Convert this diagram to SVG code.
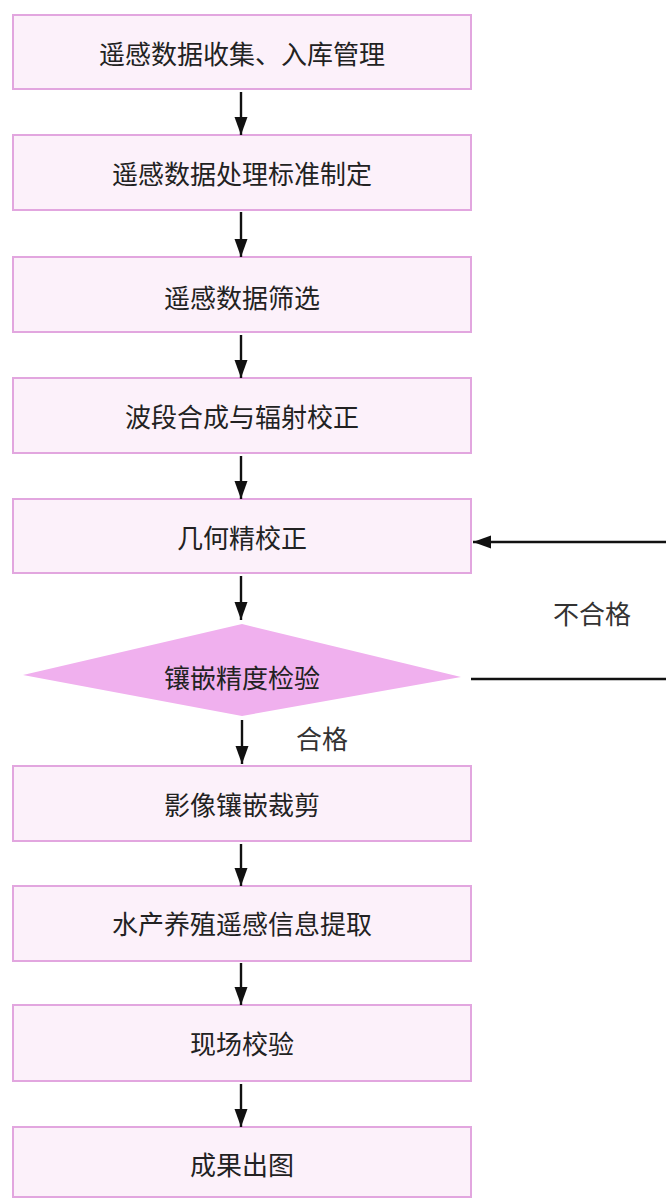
<svg xmlns="http://www.w3.org/2000/svg" width="666" height="1199" viewBox="0 0 666 1199">
<style>
.box{fill:#fcf1fa;stroke:#e2a6df;stroke-width:2}
.dia{fill:#f0b0ee;stroke:none}
.t{font-family:"Noto Sans CJK SC","Noto Sans",sans-serif;font-size:26px;fill:#222;text-anchor:middle;dominant-baseline:central}
.lbl{font-family:"Noto Sans CJK SC","Noto Sans",sans-serif;font-size:26px;fill:#333;text-anchor:middle;dominant-baseline:central}
.c{stroke:#111;stroke-width:2.4;fill:none}
</style>
<defs>
<marker id="ah" markerUnits="userSpaceOnUse" markerWidth="18" markerHeight="14" refX="18" refY="7" viewBox="0 0 18 14" orient="auto">
<path d="M0,0.5 L18,7 L0,13.5 Z" fill="#111"/>
</marker>
</defs>
<rect width="666" height="1199" fill="#fff"/>
<g id="n1"><rect class="box" x="13" y="15" width="458" height="74"/><text class="t" x="242" y="52">遥感数据收集、入库管理</text></g>
<g id="n2"><rect class="box" x="13" y="135" width="458" height="75"/><text class="t" x="242" y="172">遥感数据处理标准制定</text></g>
<g id="n3"><rect class="box" x="13" y="257" width="458" height="75"/><text class="t" x="242" y="296">遥感数据筛选</text></g>
<g id="n4"><rect class="box" x="13" y="378" width="458" height="75"/><text class="t" x="242" y="415">波段合成与辐射校正</text></g>
<g id="n5"><rect class="box" x="13" y="499" width="458" height="74"/><text class="t" x="242" y="536">几何精校正</text></g>
<g id="n6"><polygon class="dia" points="242,624 461,677 242,716 23,675"/><text class="t" x="242" y="676" fill="#1a1a1a">镶嵌精度检验</text></g>
<g id="n7"><rect class="box" x="13" y="766" width="458" height="75"/><text class="t" x="242" y="803">影像镶嵌裁剪</text></g>
<g id="n8"><rect class="box" x="13" y="886" width="458" height="75"/><text class="t" x="242" y="922">水产养殖遥感信息提取</text></g>
<g id="n9"><rect class="box" x="13" y="1005" width="458" height="76"/><text class="t" x="242" y="1042">现场校验</text></g>
<g id="n10"><rect class="box" x="13" y="1127" width="458" height="70"/><text class="t" x="242" y="1163">成果出图</text></g>
<g id="connectors">
<line class="c" x1="241" y1="92" x2="241" y2="135" marker-end="url(#ah)"/>
<line class="c" x1="241" y1="212" x2="241" y2="257" marker-end="url(#ah)"/>
<line class="c" x1="241" y1="335" x2="241" y2="378" marker-end="url(#ah)"/>
<line class="c" x1="241" y1="456" x2="241" y2="499" marker-end="url(#ah)"/>
<line class="c" x1="241" y1="576" x2="241" y2="620" marker-end="url(#ah)"/>
<line class="c" x1="242" y1="720" x2="242" y2="764" marker-end="url(#ah)"/>
<line class="c" x1="241" y1="844" x2="241" y2="886" marker-end="url(#ah)"/>
<line class="c" x1="241" y1="963" x2="241" y2="1005" marker-end="url(#ah)"/>
<line class="c" x1="241" y1="1084" x2="241" y2="1127" marker-end="url(#ah)"/>
<line class="c" x1="471" y1="679" x2="666" y2="679"/>
<line class="c" x1="666" y1="542" x2="473" y2="542" marker-end="url(#ah)"/>
<text class="lbl" x="592" y="612">不合格</text>
<text class="lbl" x="322" y="737">合格</text>
</g>
</svg>
